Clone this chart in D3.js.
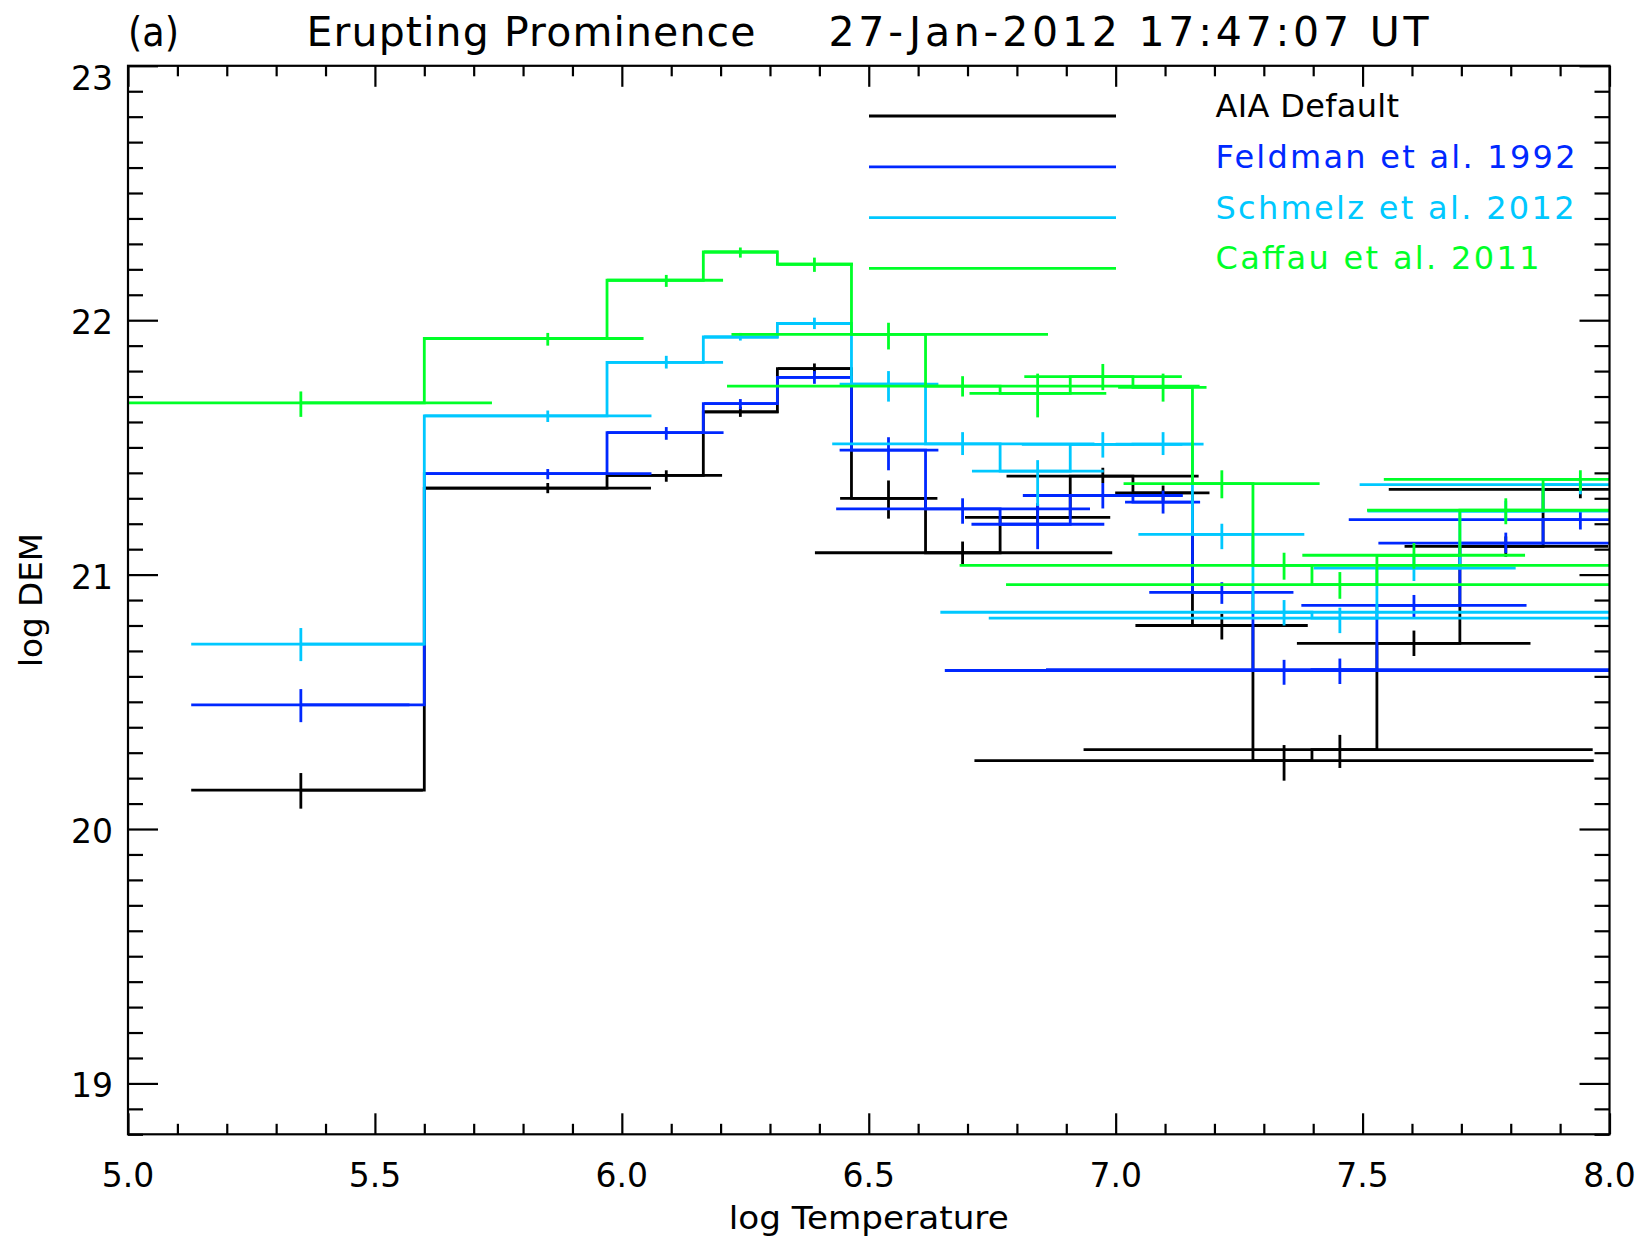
<!DOCTYPE html>
<html>
<head>
<meta charset="utf-8">
<script src="https://cdn.jsdelivr.net/npm/d3@7"></script>
<style>
  html, body { margin: 0; padding: 0; background: #ffffff; }
  svg { display: block; }
  text { font-family: "DejaVu Sans", "Liberation Sans", sans-serif; }
</style>
</head>
<body>
<svg id="chart" width="1646" height="1239"></svg>
<script>
// ---------------- data ----------------
const logT = [5.35, 5.85, 6.09, 6.24, 6.39, 6.54, 6.69, 6.842, 6.974, 7.096, 7.215, 7.341, 7.454, 7.604, 7.79, 7.941];

const seriesNames  = ["AIA Default", "Feldman et al. 1992", "Schmelz et al. 2012", "Caffau et al. 2011"];
const seriesColors = ["#000000", "#0028FF", "#00C8FF", "#00FF28"];

// AIA Default
const aiaDem   = [20.153, 21.340, 21.390, 21.640, 21.810, 21.300, 21.086, 21.225, 21.387, 21.321, 20.800, 20.269, 20.312, 20.730, 21.111, 21.335];
const aiaDemLo = [20.080, 21.320, 21.365, 21.620, 21.790, 21.220, 21.040, 21.200, 21.360, 21.290, 20.745, 20.190, 20.240, 20.680, 21.070, 21.300];
const aiaDemHi = [20.220, 21.360, 21.410, 21.660, 21.830, 21.370, 21.130, 21.280, 21.420, 21.350, 20.846, 20.330, 20.370, 20.780, 21.150, 21.370];
const aiaTLo   = [5.128, 5.600, 5.970, 6.166, 6.316, 6.442, 6.391, 6.695, 6.779, 6.999, 7.040, 6.714, 6.935, 7.367, 7.585, 7.553];
const aiaTHi   = [5.597, 6.059, 6.203, 6.317, 6.463, 6.639, 6.993, 6.989, 7.168, 7.190, 7.389, 7.968, 7.966, 7.840, 7.997, 8.100];

// Feldman et al. 1992
const felDem   = [20.488, 21.397, 21.558, 21.672, 21.775, 21.489, 21.258, 21.198, 21.311, 21.285, 20.930, 20.623, 20.626, 20.879, 21.124, 21.216];
const felDemLo = [20.420, 21.375, 21.530, 21.650, 21.750, 21.410, 21.200, 21.100, 21.260, 21.240, 20.885, 20.567, 20.570, 20.830, 21.085, 21.177];
const felDemHi = [20.550, 21.415, 21.580, 21.690, 21.800, 21.540, 21.300, 21.280, 21.360, 21.330, 20.970, 20.665, 20.670, 20.920, 21.165, 21.246];
const felTLo   = [5.128, 5.601, 5.970, 6.166, 6.316, 6.441, 6.434, 6.708, 6.812, 7.019, 7.068, 6.654, 6.859, 7.376, 7.532, 7.472];
const felTHi   = [5.570, 6.060, 6.206, 6.317, 6.465, 6.641, 6.948, 6.977, 7.136, 7.171, 7.360, 8.100, 8.100, 7.832, 8.100, 8.100];

// Schmelz et al. 2012
const schDem   = [20.727, 21.624, 21.834, 21.934, 21.987, 21.749, 21.514, 21.407, 21.512, 21.513, 21.158, 20.852, 20.829, 21.026, 21.250, 21.354];
const schDemLo = [20.660, 21.600, 21.810, 21.920, 21.965, 21.680, 21.470, 21.270, 21.460, 21.470, 21.100, 20.800, 20.770, 20.975, 21.210, 21.316];
const schDemHi = [20.790, 21.645, 21.860, 21.950, 22.010, 21.800, 21.560, 21.450, 21.560, 21.560, 21.200, 20.900, 20.870, 21.075, 21.290, 21.370];
const schTLo   = [5.128, 5.600, 5.970, 6.166, 6.316, 6.441, 6.426, 6.709, 6.810, 7.000, 7.046, 6.645, 6.743, 7.401, 7.510, 7.494];
const schTHi   = [5.600, 6.060, 6.205, 6.317, 6.465, 6.641, 6.957, 6.976, 7.135, 7.178, 7.382, 8.100, 8.100, 7.810, 8.100, 8.100];

// Caffau et al. 2011
const cafDem   = [21.675, 21.928, 22.157, 22.268, 22.220, 21.944, 21.741, 21.712, 21.778, 21.736, 21.358, 21.036, 20.961, 21.076, 21.253, 21.374];
const cafDemLo = [21.620, 21.900, 22.131, 22.246, 22.190, 21.885, 21.700, 21.618, 21.725, 21.680, 21.300, 20.980, 20.905, 21.023, 21.198, 21.330];
const cafDemHi = [21.720, 21.950, 22.178, 22.286, 22.246, 21.990, 21.780, 21.790, 21.828, 21.790, 21.410, 21.086, 21.010, 21.124, 21.300, 21.410];
const cafTLo   = [4.900, 5.600, 5.970, 6.166, 6.316, 6.222, 6.213, 6.704, 6.815, 7.005, 7.016, 6.684, 6.778, 7.378, 7.509, 7.543];
const cafTHi   = [5.737, 6.044, 6.205, 6.316, 6.468, 6.863, 7.170, 6.981, 7.134, 7.184, 7.413, 8.100, 8.100, 7.829, 8.100, 8.100];

const xMajorTicks = [5.0, 5.5, 6.0, 6.5, 7.0, 7.5, 8.0];
const xTickLabels = ["5.0", "5.5", "6.0", "6.5", "7.0", "7.5", "8.0"];
const yMajorTicks = [19, 20, 21, 22, 23];
const yTickLabels = ["19", "20", "21", "22", "23"];

const panelLabel = "(a)";
const titleLeft  = "Erupting Prominence";
const titleRight = "27-Jan-2012 17:47:07 UT";
const xTitle = "log Temperature";
const yTitle = "log DEM";

// ---------------- layout ----------------
const svg = d3.select("#chart");
const L = 128, R = 1609.5, T = 65.8, B = 1134.3;
const x = d3.scaleLinear().domain([5, 8]).range([L, R]);
const y = d3.scaleLinear().domain([18.8, 23]).range([B, T]);

const series = [
  { name: seriesNames[0], color: seriesColors[0], dem: aiaDem, lo: aiaDemLo, hi: aiaDemHi, tlo: aiaTLo, thi: aiaTHi },
  { name: seriesNames[1], color: seriesColors[1], dem: felDem, lo: felDemLo, hi: felDemHi, tlo: felTLo, thi: felTHi },
  { name: seriesNames[2], color: seriesColors[2], dem: schDem, lo: schDemLo, hi: schDemHi, tlo: schTLo, thi: schTHi },
  { name: seriesNames[3], color: seriesColors[3], dem: cafDem, lo: cafDemLo, hi: cafDemHi, tlo: cafTLo, thi: cafTHi }
];

svg.append("rect").attr("width", 1646).attr("height", 1239).attr("fill", "#fff");

svg.append("defs").append("clipPath").attr("id", "plotclip")
  .append("rect").attr("x", L).attr("y", T).attr("width", R - L).attr("height", B - T);

// ---------------- data marks ----------------
const dataG = svg.append("g").attr("clip-path", "url(#plotclip)");
const lw = 2.8;
const stepLine = d3.line().curve(d3.curveStep);

series.forEach(s => {
  const g = dataG.append("g").attr("stroke", s.color).attr("fill", "none").attr("stroke-width", lw);
  const pts = logT.map((t, i) => [x(t), y(s.dem[i])]);
  g.append("path").attr("d", stepLine(pts));
  // horizontal (temperature) error bars
  g.selectAll("line.h").data(logT).join("line").attr("class", "h")
    .attr("x1", (t, i) => x(s.tlo[i])).attr("x2", (t, i) => x(s.thi[i]))
    .attr("y1", (t, i) => y(s.dem[i])).attr("y2", (t, i) => y(s.dem[i]));
  // vertical (DEM) error bars
  g.selectAll("line.v").data(logT).join("line").attr("class", "v")
    .attr("x1", t => x(t)).attr("x2", t => x(t))
    .attr("y1", (t, i) => y(s.lo[i])).attr("y2", (t, i) => y(s.hi[i]));
});

// ---------------- axes ----------------
const axW = 2.2;
const xMinor = d3.range(50, 81).map(v => v / 10).filter(v => !xMajorTicks.some(m => Math.abs(m - v) < 1e-9));
const yMinor = d3.range(188, 231).map(v => v / 10).filter(v => !yMajorTicks.some(m => Math.abs(m - v) < 1e-9));

function styleAxis(g) {
  g.select(".domain").remove();
  g.selectAll(".tick line").attr("stroke", "#000").attr("stroke-width", axW);
  g.selectAll(".tick text").remove();
}
// bottom
svg.append("g").attr("transform", `translate(0,${B})`)
  .call(d3.axisBottom(x).tickValues(xMajorTicks).tickSize(-21).tickFormat("")).call(styleAxis);
svg.append("g").attr("transform", `translate(0,${B})`)
  .call(d3.axisBottom(x).tickValues(xMinor).tickSize(-10.5).tickFormat("")).call(styleAxis);
// top
svg.append("g").attr("transform", `translate(0,${T})`)
  .call(d3.axisTop(x).tickValues(xMajorTicks).tickSize(-21).tickFormat("")).call(styleAxis);
svg.append("g").attr("transform", `translate(0,${T})`)
  .call(d3.axisTop(x).tickValues(xMinor).tickSize(-10.5).tickFormat("")).call(styleAxis);
// left
svg.append("g").attr("transform", `translate(${L},0)`)
  .call(d3.axisLeft(y).tickValues(yMajorTicks).tickSize(-30).tickFormat("")).call(styleAxis);
svg.append("g").attr("transform", `translate(${L},0)`)
  .call(d3.axisLeft(y).tickValues(yMinor).tickSize(-15).tickFormat("")).call(styleAxis);
// right
svg.append("g").attr("transform", `translate(${R},0)`)
  .call(d3.axisRight(y).tickValues(yMajorTicks).tickSize(-30).tickFormat("")).call(styleAxis);
svg.append("g").attr("transform", `translate(${R},0)`)
  .call(d3.axisRight(y).tickValues(yMinor).tickSize(-15).tickFormat("")).call(styleAxis);

// frame
svg.append("rect").attr("x", L).attr("y", T).attr("width", R - L).attr("height", B - T)
  .attr("fill", "none").attr("stroke", "#000").attr("stroke-width", axW);

// tick labels
const tickFont = 33;
svg.append("g").selectAll("text").data(xMajorTicks).join("text")
  .attr("x", d => x(d)).attr("y", 1186.5)
  .attr("text-anchor", "middle").attr("font-size", tickFont).attr("fill", "#000")
  .text((d, i) => xTickLabels[i]);

svg.append("g").selectAll("text").data(yMajorTicks).join("text")
  .attr("x", 113).attr("y", d => Math.max(y(d) + 14, T + 24.5))
  .attr("text-anchor", "end").attr("font-size", tickFont).attr("fill", "#000")
  .text((d, i) => yTickLabels[i]);

// axis titles
svg.append("text").attr("x", (L + R) / 2).attr("y", 1228.5)
  .attr("text-anchor", "middle").attr("font-size", 32).attr("fill", "#000")
  .attr("textLength", 280).attr("lengthAdjust", "spacingAndGlyphs")
  .text(xTitle);

svg.append("text").attr("transform", `translate(42,${(T + B) / 2}) rotate(-90)`)
  .attr("text-anchor", "middle").attr("font-size", 32).attr("fill", "#000")
  .attr("textLength", 134).attr("lengthAdjust", "spacingAndGlyphs")
  .text(yTitle);

// title
svg.append("text").attr("x", 128).attr("y", 46).attr("font-size", 41).attr("fill", "#000")
  .attr("textLength", 51).attr("lengthAdjust", "spacingAndGlyphs").text(panelLabel);
svg.append("text").attr("x", 306.5).attr("y", 46).attr("font-size", 41).attr("fill", "#000")
  .attr("textLength", 449).attr("lengthAdjust", "spacing").text(titleLeft);
svg.append("text").attr("x", 828.5).attr("y", 46).attr("font-size", 41).attr("fill", "#000")
  .attr("textLength", 600).attr("lengthAdjust", "spacing").text(titleRight);

// legend
const legendY = [116, 166.8, 217.6, 268.4];
const legendTextLen = [183.5, 360, 359, 324];
const lg = svg.append("g");
series.forEach((s, i) => {
  lg.append("line").attr("x1", 869).attr("x2", 1116).attr("y1", legendY[i]).attr("y2", legendY[i])
    .attr("stroke", s.color).attr("stroke-width", lw);
  lg.append("text").attr("x", 1215.5).attr("y", legendY[i] + 1)
    .attr("font-size", 32).attr("fill", s.color)
    .attr("textLength", legendTextLen[i]).attr("lengthAdjust", "spacing")
    .text(s.name);
});
</script>
</body>
</html>
